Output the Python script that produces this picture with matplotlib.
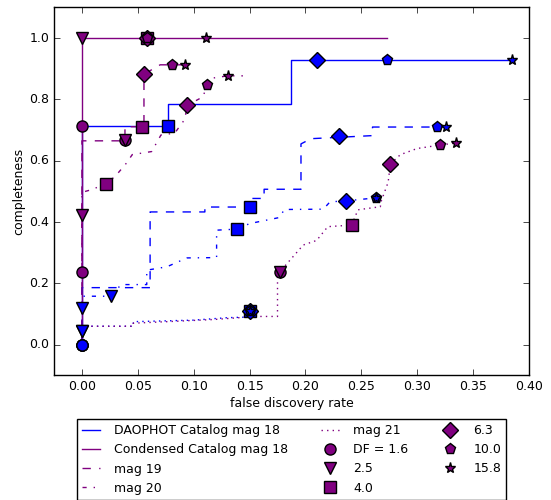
import matplotlib
matplotlib.use('Agg')
import matplotlib.pyplot as plt
from matplotlib.lines import Line2D

plt.style.use('classic')
plt.rcParams['font.size'] = 9
plt.rcParams['figure.facecolor'] = 'white'
plt.rcParams['savefig.facecolor'] = 'white'
plt.rcParams['xtick.major.pad'] = 3.5
plt.rcParams['ytick.major.pad'] = 3.5

df_labels = ['DF = 1.6', '2.5', '4.0', '6.3', '10.0', '15.8']
df_markers = ['o', 'v', 's', 'D', 'p', '*']

# DAOPHOT catalog curves (blue)
dao18_fdr = [0, 0, 0.0767, 0.0767, 0.187, 0.187, 0.385]
dao18_comp = [0, 0.713, 0.713, 0.785, 0.785, 0.928, 0.928]
dao18_df_fdr = [0, 0, 0.0767, 0.21, 0.2727, 0.385]
dao18_df_comp = [0, 0.044, 0.713, 0.928, 0.928, 0.928]

dao19_fdr = [0, 0, 0.061, 0.061, 0.110, 0.110, 0.150, 0.150, 0.163, 0.163, 0.196, 0.196, 0.205, 0.26, 0.26, 0.3257]
dao19_comp = [0, 0.186, 0.186, 0.433, 0.433, 0.449, 0.449, 0.477, 0.477, 0.507, 0.507, 0.655, 0.672, 0.682, 0.710, 0.710]
dao19_df_fdr = [0, 0, 0.150, 0.23, 0.3174, 0.3257]
dao19_df_comp = [0, 0.119, 0.449, 0.681, 0.710, 0.710]

dao20_fdr = [0, 0, 0.026, 0.035, 0.058, 0.058, 0.076, 0.094, 0.1205, 0.1205, 0.139, 0.15, 0.177, 0.181, 0.216, 0.222, 0.236, 0.2634]
dao20_comp = [0, 0.158, 0.158, 0.196, 0.196, 0.243, 0.254, 0.283, 0.284, 0.3735, 0.377, 0.395, 0.415, 0.441, 0.442, 0.466, 0.469, 0.479]
dao20_df_fdr = [0, 0.026, 0.139, 0.236, 0.2634, 0.2634]
dao20_df_comp = [0, 0.158, 0.377, 0.469, 0.479, 0.479]

dao21_fdr = [0, 0, 0.046, 0.046, 0.10, 0.13, 0.15, 0.15]
dao21_comp = [0, 0.06, 0.06, 0.075, 0.08, 0.088, 0.09, 0.11]
dao21_df_fdr = [0, 0, 0.15, 0.15, 0.15, 0.15]
dao21_df_comp = [0, 0.044, 0.11, 0.11, 0.11, 0.11]

# Condensed catalog curves (purple)
con18_fdr = [0, 0, 0.273]
con18_comp = [0, 1.0, 1.0]
con18_df_fdr = [0, 0, 0.0585, 0.0585, 0.0585, 0.111]
con18_df_comp = [0.713, 1.0, 1.0, 1.0, 1.0, 1.0]

con19_fdr = [0, 0, 0.0385, 0.0385, 0.0385, 0.0555, 0.0555, 0.063, 0.07, 0.0802, 0.098]
con19_comp = [0, 0.665, 0.665, 0.695, 0.711, 0.711, 0.883, 0.898, 0.913, 0.913, 0.913]
con19_df_fdr = [0.0385, 0.0385, 0.0534, 0.0555, 0.0802, 0.0922]
con19_df_comp = [0.667, 0.667, 0.711, 0.883, 0.913, 0.913]

con20_fdr = [0, 0, 0.008, 0.0212, 0.03, 0.04, 0.045, 0.0624, 0.0707, 0.083, 0.092, 0.0943, 0.1085, 0.1116, 0.1175, 0.1304, 0.144]
con20_comp = [0, 0.497, 0.505, 0.524, 0.55, 0.593, 0.62, 0.63, 0.684, 0.69, 0.735, 0.781, 0.809, 0.847, 0.87, 0.877, 0.877]
con20_df_fdr = [0, 0, 0.0212, 0.0943, 0.1116, 0.1304]
con20_df_comp = [0.237, 0.4225, 0.524, 0.781, 0.847, 0.877]

con21_fdr = [0, 0, 0.046, 0.046, 0.118, 0.156, 0.175, 0.175, 0.177, 0.186, 0.198, 0.21, 0.22, 0.2413, 0.247, 0.267, 0.268, 0.274, 0.276, 0.285, 0.30, 0.32, 0.335]
con21_comp = [0, 0.06, 0.06, 0.07, 0.082, 0.092, 0.092, 0.237, 0.237, 0.275, 0.325, 0.34, 0.385, 0.39, 0.44, 0.45, 0.47, 0.53, 0.59, 0.62, 0.64, 0.651, 0.658]
con21_df_fdr = [0.177, 0.177, 0.2413, 0.276, 0.32, 0.335]
con21_df_comp = [0.237, 0.237, 0.39, 0.59, 0.651, 0.658]

curves = [
    (dao18_fdr, dao18_comp, dao18_df_fdr, dao18_df_comp, 'b', '-'),
    (con18_fdr, con18_comp, con18_df_fdr, con18_df_comp, 'purple', '-'),
    (dao19_fdr, dao19_comp, dao19_df_fdr, dao19_df_comp, 'b', '--'),
    (con19_fdr, con19_comp, con19_df_fdr, con19_df_comp, 'purple', '--'),
    (dao20_fdr, dao20_comp, dao20_df_fdr, dao20_df_comp, 'b', '-.'),
    (con20_fdr, con20_comp, con20_df_fdr, con20_df_comp, 'purple', '-.'),
    (dao21_fdr, dao21_comp, dao21_df_fdr, dao21_df_comp, 'b', ':'),
    (con21_fdr, con21_comp, con21_df_fdr, con21_df_comp, 'purple', ':'),
]

fig = plt.figure(figsize=(5.51, 5.0), dpi=100)
ax = fig.add_axes([0.098, 0.2494, 0.862, 0.7356])

for fdr, comp, mfdr, mcomp, col, ls in curves:
    ax.plot(fdr, comp, color=col, ls=ls, lw=1)
for fdr, comp, mfdr, mcomp, col, ls in curves:
    for i in range(len(df_markers)):
        ax.plot([mfdr[i]], [mcomp[i]], ls='none', marker=df_markers[i],
                color=col, mec='k', mew=1, ms=8)

ax.set_xlim(-0.025, 0.4)
ax.set_ylim(-0.1, 1.1)
ax.set_xticks([0, 0.05, 0.1, 0.15, 0.2, 0.25, 0.3, 0.35, 0.4])
ax.set_xticklabels(['0.00', '0.05', '0.10', '0.15', '0.20', '0.25', '0.30', '0.35', '0.40'])
ax.set_yticks([0, 0.2, 0.4, 0.6, 0.8, 1.0])
ax.set_yticklabels(['0.0', '0.2', '0.4', '0.6', '0.8', '1.0'])
ax.set_xlabel('false discovery rate', labelpad=3)
ax.set_ylabel('completeness', labelpad=3)

handles = [Line2D([], [], color='b', ls='-'),
           Line2D([], [], color='purple', ls='-'),
           Line2D([], [], color='purple', ls='--'),
           Line2D([], [], color='purple', ls='-.'),
           Line2D([], [], color='purple', ls=':')]
labels = ['DAOPHOT Catalog mag 18', 'Condensed Catalog mag 18', 'mag 19', 'mag 20', 'mag 21']
for m, lab in zip(df_markers, df_labels):
    handles.append(Line2D([], [], ls='none', marker=m, color='purple', mec='k', mew=1, ms=8))
    labels.append(lab)

fig.legend(handles, labels, ncol=3, loc='upper center', bbox_to_anchor=(0.529, 0.162),
           borderaxespad=0, numpoints=1, handlelength=1.5, handletextpad=1.1,
           columnspacing=2.6, fontsize=9, fancybox=False)

fig.savefig('out.png', dpi=100)
